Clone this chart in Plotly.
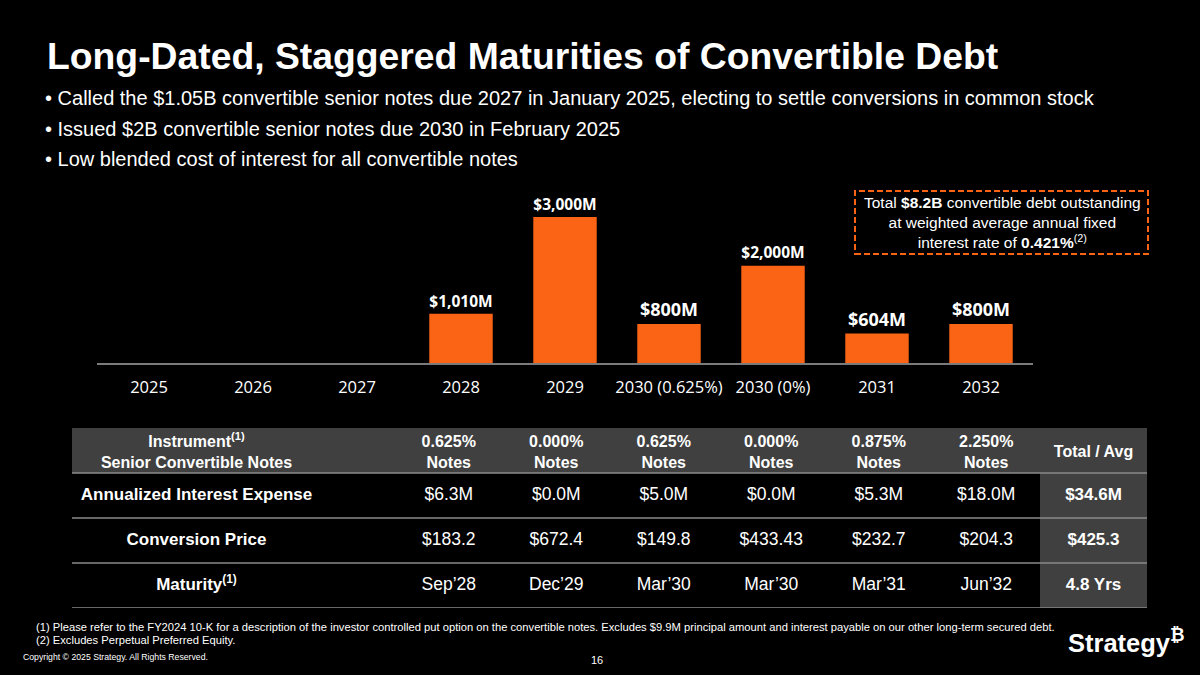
import plotly.graph_objects as go

# bar chart data
years = ["2025", "2026", "2027", "2028", "2029", "2030 (0.625%)", "2030 (0%)", "2031", "2032"]
principal = [None, None, None, 1010, 3000, 800, 2000, 604, 800]

# table data
coupons = ["0.625%", "0.000%", "0.625%", "0.000%", "0.875%", "2.250%"]
interest = ["$6.3M", "$0.0M", "$5.0M", "$0.0M", "$5.3M", "$18.0M"]
conv_price = ["$183.2", "$672.4", "$149.8", "$433.43", "$232.7", "$204.3"]
maturity = ["Sep\u201928", "Dec\u201929", "Mar\u201930", "Mar\u201930", "Mar\u201931", "Jun\u201932"]
totals = ["$34.6M", "$425.3", "4.8 Yrs"]
row_names = ["Annualized Interest Expense", "Conversion Price", "Maturity<sup>(1)</sup>"]

ORANGE = "#FA6414"
GREY = "#404040"
W, H = 1200, 675


def px_x(x):
    return x / W


def px_y(y):
    return 1 - y / H


labels = [f"${v:,}M" if v else "" for v in principal]

fig = go.Figure()
fig.add_trace(go.Bar(
    x=years, y=principal, text=labels, textposition="outside",
    marker=dict(color=ORANGE, line=dict(width=0)),
    textfont=dict(family="Open Sans", size=18, color="white", weight="bold"),
    cliponaxis=False, width=0.61, hoverinfo="skip",
))

# table laid out on its own axes: columns by width, rows by index
col_w = [243, 80] + [107.5] * 6 + [107]
edges = [0]
for w in col_w:
    edges.append(edges[-1] + w)
centers = [(edges[i] + edges[i + 1]) / 2 for i in range(len(col_w))]
name_x = centers[0] + 3
note_x = centers[2:8]
total_x = centers[8]

tfont = dict(family="Liberation Sans", color="white")
head_text = ["<b>Instrument<sup>(1)</sup></b><br><b>Senior Convertible Notes</b>"]
head_text += [f"<b>{c}</b><br><b>Notes</b>" for c in coupons] + ["<b>Total / Avg</b>"]
fig.add_trace(go.Scatter(
    x=[name_x] + note_x + [total_x], y=[0.06] * 8, text=head_text, mode="text",
    textposition="middle center", textfont=dict(size=16, **tfont),
    xaxis="x2", yaxis="y2", hoverinfo="skip", cliponaxis=False,
))
rows = [interest, conv_price, maturity]
for r, vals in enumerate(rows, start=1):
    fig.add_trace(go.Scatter(
        x=[name_x], y=[r], text=[f"<b>{row_names[r - 1]}</b>"], mode="text",
        textposition="middle center", textfont=dict(size=17, **tfont),
        xaxis="x2", yaxis="y2", hoverinfo="skip", cliponaxis=False,
    ))
    fig.add_trace(go.Scatter(
        x=note_x, y=[r] * len(vals), text=vals, mode="text",
        textposition="middle center", textfont=dict(size=17.5, **tfont),
        xaxis="x2", yaxis="y2", hoverinfo="skip", cliponaxis=False,
    ))
    fig.add_trace(go.Scatter(
        x=[total_x], y=[r], text=[f"<b>{totals[r - 1]}</b>"], mode="text",
        textposition="middle center", textfont=dict(size=17, **tfont),
        xaxis="x2", yaxis="y2", hoverinfo="skip", cliponaxis=False,
    ))

shapes = [
    dict(type="rect", xref="x2", yref="y2", x0=edges[0], x1=edges[-1], y0=-0.5, y1=0.5,
         fillcolor=GREY, line=dict(width=0), layer="below"),
    dict(type="rect", xref="x2", yref="y2", x0=edges[-2], x1=edges[-1], y0=0.5, y1=3.5,
         fillcolor=GREY, line=dict(width=0), layer="below"),
]
for yy in [0.5, 1.5, 2.5, 3.5]:
    shapes.append(dict(type="line", xref="x2", yref="y2", x0=edges[0], x1=edges[-1], y0=yy, y1=yy,
                       line=dict(color="#8a8a8a", width=1.5)))
shapes.append(dict(type="rect", xref="paper", yref="paper",
                   x0=px_x(855), x1=px_x(1148), y0=px_y(254), y1=px_y(191),
                   line=dict(color=ORANGE, width=2, dash="6px,3px")))


def note(text, x, y, size, xanchor="left", family="Liberation Sans", **kw):
    return dict(text=text, x=px_x(x), y=px_y(y), xref="paper", yref="paper",
                xanchor=xanchor, yanchor="middle", showarrow=False,
                font=dict(family=family, size=size, color="white"), **kw)


ann = [note("<b>Long-Dated, Staggered Maturities of Convertible Debt</b>", 45, 56, 37.3)]
bullets = [
    "Called the $1.05B convertible senior notes due 2027 in January 2025, electing to settle conversions in common stock",
    "Issued $2B convertible senior notes due 2030 in February 2025",
    "Low blended cost of interest for all convertible notes",
]
for b, yy in zip(bullets, [98, 129, 159]):
    ann.append(note("\u2022 " + b, 43, yy, 20))
ann.append(note("Total <b>$8.2B</b> convertible debt outstanding<br>at weighted average annual fixed"
                "<br>interest rate of <b>0.421%</b><sup>(2)</sup>", 1002, 222, 15.5,
                xanchor="center", align="center"))
ann.append(note("(1) Please refer to the FY2024 10-K for a description of the investor controlled put option "
                "on the convertible notes. Excludes $9.9M principal amount and interest payable on our other "
                "long-term secured debt.", 34, 627, 11.2))
ann.append(note("(2) Excludes Perpetual Preferred Equity.", 34, 640, 11.2))
ann.append(note("Copyright \u00a9 2025 Strategy. All Rights Reserved.", 21, 657, 8.7))
ann.append(note("16", 597, 660, 11, xanchor="center"))
ann.append(note("<b>Strategy<sup>\u20bf</sup></b>", 1066, 641, 25.5))

fig.update_layout(
    width=W, height=H, margin=dict(l=0, r=0, t=0, b=0),
    paper_bgcolor="black", plot_bgcolor="black", showlegend=False,
    bargap=0.39, shapes=shapes, annotations=ann,
    xaxis=dict(domain=[px_x(97), px_x(1033)], showgrid=False, showline=True,
               linecolor="#7a7a7a", linewidth=1.5, ticks="", ticklen=0, fixedrange=True,
               ticklabelstandoff=8,
               tickfont=dict(family="Open Sans", size=16.5, color="white")),
    yaxis=dict(domain=[px_y(363), px_y(190)], range=[0, 3555], visible=False),
    xaxis2=dict(domain=[px_x(72), px_x(1147)], range=[edges[0], edges[-1]], visible=False,
                anchor="y2"),
    yaxis2=dict(domain=[px_y(608), px_y(428)], range=[3.5, -0.5], visible=False, anchor="x2"),
)

fig.write_html("out.html", config={"displayModeBar": False},
               post_script="document.body.style.margin='0';")
